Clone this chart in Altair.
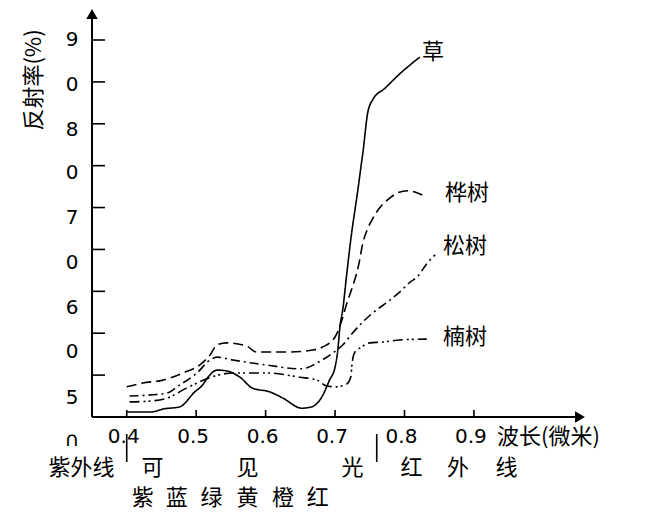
import altair as alt
import pandas as pd

# spectral reflectance curves: wavelength (um) / reflectance (%)
grass_wl = [0.400, 0.436, 0.452, 0.476, 0.498, 0.509, 0.517, 0.530, 0.544, 0.563, 0.581,
            0.606, 0.625, 0.652, 0.666, 0.681, 0.692, 0.700, 0.704, 0.707, 0.711, 0.717,
            0.724, 0.728, 0.733, 0.738, 0.740, 0.747, 0.754, 0.772, 0.793, 0.822]
grass_rf = [1.2, 1.2, 1.9, 2.4, 6.0, 7.6, 9.5, 11.2, 11.0, 9.5, 6.9,
            6.0, 4.5, 2.1, 2.4, 4.8, 8.8, 11.9, 16.0, 21.5, 25.5, 34.4,
            44.1, 48.7, 54.4, 60.6, 63.0, 72.6, 75.7, 78.5, 81.9, 85.9]

birch_wl = [0.400, 0.423, 0.452, 0.481, 0.505, 0.520, 0.530, 0.544, 0.573, 0.587, 0.635,
            0.668, 0.682, 0.700, 0.710, 0.717, 0.725, 0.734, 0.740, 0.746, 0.753, 0.764,
            0.779, 0.790, 0.805, 0.815, 0.829]
birch_rf = [7.2, 8.1, 8.8, 10.5, 12.4, 14.8, 17.2, 17.7, 16.9, 15.5, 15.5,
            16.0, 16.7, 19.1, 23.2, 27.2, 31.0, 36.3, 41.5, 44.6, 47.0, 49.9,
            52.3, 53.5, 54.0, 53.7, 52.7]

pine_wl = [0.404, 0.437, 0.458, 0.476, 0.501, 0.520, 0.530, 0.553, 0.602, 0.649, 0.659,
           0.674, 0.697, 0.711, 0.725, 0.740, 0.754, 0.779, 0.793, 0.808, 0.818, 0.833, 0.844]
pine_rf = [5.0, 5.3, 5.7, 7.6, 10.5, 13.6, 14.3, 13.6, 12.4, 11.5, 11.7,
           12.9, 15.3, 17.2, 20.0, 22.7, 24.8, 27.9, 29.8, 32.2, 33.4, 36.8, 38.7]

beech_wl = [0.404, 0.433, 0.458, 0.486, 0.505, 0.527, 0.553, 0.602, 0.649, 0.674, 0.688,
            0.702, 0.717, 0.723, 0.724, 0.728, 0.738, 0.750, 0.769, 0.793, 0.832]
beech_rf = [3.6, 3.8, 4.5, 6.9, 8.4, 9.8, 10.5, 10.5, 9.5, 8.8, 7.4,
            7.2, 7.9, 9.8, 11.9, 15.3, 16.7, 17.7, 17.9, 18.4, 18.6]

curve_names = ["草", "桦树", "松树", "楠树"]
name_wl = [0.841, 0.890, 0.887, 0.887]
name_rf = [87.1, 53.5, 40.8, 19.1]

# axes
y_ticks = [10, 20, 30, 40, 50, 60, 70, 80, 90]
y_labels = ["9", "0", "8", "0", "7", "0", "6", "0", "5", "∩"]
y_label_at = [90.0, 79.2, 68.5, 58.2, 47.5, 36.8, 26.0, 15.5, 4.5, -5.5]
x_ticks = [0.4, 0.5, 0.6, 0.7, 0.8, 0.9]
x_labels = ["0.4", "0.5", "0.6", "0.7", "0.8", "0.9"]

# spectrum bands under the axis
band_edges = [0.4, 0.76]
band_words = ["紫外线", "可", "见", "光", "红", "外", "线"]
band_word_wl = [0.335, 0.437, 0.574, 0.725, 0.810, 0.877, 0.947]
colour_words = ["紫", "蓝", "绿", "黄", "橙", "红"]
colour_word_wl = [0.423, 0.472, 0.522, 0.574, 0.625, 0.675]

CJK = "Noto Sans CJK SC"
W, H = 500, 408

xs = alt.Scale(domain=[0.35, 1.07], nice=False, zero=False)
ys = alt.Scale(domain=[0, 97.4], nice=False, zero=False)


def curve(wl, rf, dash):
    df = pd.DataFrame({"wl": wl, "rf": rf})
    m = alt.Chart(df).mark_line(color="black", strokeWidth=1.6, interpolate="monotone",
                                strokeDash=dash)
    return m.encode(x=alt.X("wl:Q", scale=xs, axis=None),
                    y=alt.Y("rf:Q", scale=ys, axis=None))


grass = curve(grass_wl, grass_rf, [1, 0])
birch = curve(birch_wl, birch_rf, [10, 5])
pine = curve(pine_wl, pine_rf, [9, 4, 2, 4])
beech = curve(beech_wl, beech_rf, [10, 4, 2, 3, 2, 4])

names = alt.Chart(pd.DataFrame({"wl": name_wl, "rf": name_rf, "t": curve_names})).mark_text(
    font=CJK, fontSize=22, align="center", baseline="middle", color="black"
).encode(x=alt.X("wl:Q", scale=xs, axis=None), y=alt.Y("rf:Q", scale=ys, axis=None), text="t:N")

y_axis = alt.Chart(pd.DataFrame({"a": [0]})).mark_rule(color="black", strokeWidth=2).encode(
    x=alt.value(0), y=alt.value(8), y2=alt.value(H))
x_axis = alt.Chart(pd.DataFrame({"a": [0]})).mark_rule(color="black", strokeWidth=2).encode(
    x=alt.value(0), x2=alt.value(488), y=alt.value(H))
up_arrow = alt.Chart(pd.DataFrame({"a": [0]})).mark_point(
    shape="triangle-up", filled=True, color="black", size=130, opacity=1
).encode(x=alt.value(0), y=alt.value(5))
right_arrow = alt.Chart(pd.DataFrame({"a": [0]})).mark_point(
    shape="triangle-right", filled=True, color="black", size=130, opacity=1
).encode(x=alt.value(488), y=alt.value(H))

y_tick_marks = alt.Chart(pd.DataFrame({"v": y_ticks})).mark_rule(color="black", strokeWidth=1.6).encode(
    y=alt.Y("v:Q", scale=ys, axis=None), x=alt.value(0), x2=alt.value(13))
x_tick_marks = alt.Chart(pd.DataFrame({"v": x_ticks})).mark_rule(color="black", strokeWidth=1.6).encode(
    x=alt.X("v:Q", scale=xs, axis=None), y=alt.value(H - 7), y2=alt.value(H))

y_text = alt.Chart(pd.DataFrame({"v": y_label_at, "t": y_labels})).mark_text(
    font="DejaVu Sans", fontSize=20, align="center", baseline="middle", color="black"
).encode(y=alt.Y("v:Q", scale=ys, axis=None), x=alt.value(-20), text="t:N")
x_text = alt.Chart(pd.DataFrame({"v": x_ticks, "t": x_labels})).mark_text(
    font="DejaVu Sans", fontSize=20, align="center", baseline="middle", color="black", dx=-3
).encode(x=alt.X("v:Q", scale=xs, axis=None), y=alt.value(H + 20), text="t:N")

y_title = alt.Chart(pd.DataFrame({"t": ["反射率(%)"]})).mark_text(
    font=CJK, fontSize=22, angle=270, align="center", baseline="middle", color="black"
).encode(x=alt.value(-58), y=alt.value(71), text="t:N")
x_title = alt.Chart(pd.DataFrame({"t": ["波长(微米)"]})).mark_text(
    font=CJK, fontSize=22, align="left", baseline="middle", color="black"
).encode(x=alt.value(405), y=alt.value(H + 20), text="t:N")

edges = alt.Chart(pd.DataFrame({"v": band_edges})).mark_rule(color="black", strokeWidth=1.6).encode(
    x=alt.X("v:Q", scale=xs, axis=None), y=alt.value(H + 17), y2=alt.value(H + 45))
band_text = alt.Chart(pd.DataFrame({"v": band_word_wl, "t": band_words})).mark_text(
    font=CJK, fontSize=22, align="center", baseline="middle", color="black"
).encode(x=alt.X("v:Q", scale=xs, axis=None), y=alt.value(H + 51), text="t:N")
colour_text = alt.Chart(pd.DataFrame({"v": colour_word_wl, "t": colour_words})).mark_text(
    font=CJK, fontSize=22, align="center", baseline="middle", color="black"
).encode(x=alt.X("v:Q", scale=xs, axis=None), y=alt.value(H + 81), text="t:N")

chart = alt.layer(
    y_axis, x_axis, up_arrow, right_arrow, y_tick_marks, x_tick_marks,
    y_text, x_text, y_title, x_title, edges, band_text, colour_text,
    grass, birch, pine, beech, names
).properties(
    width=W, height=H,
    autosize=alt.AutoSizeParams(type="none"),
    padding={"left": 84, "top": 1, "right": 46, "bottom": 94},
    background="white",
).configure_view(strokeWidth=0)

chart.save("out.html", embed_options={"renderer": "svg", "actions": False})
